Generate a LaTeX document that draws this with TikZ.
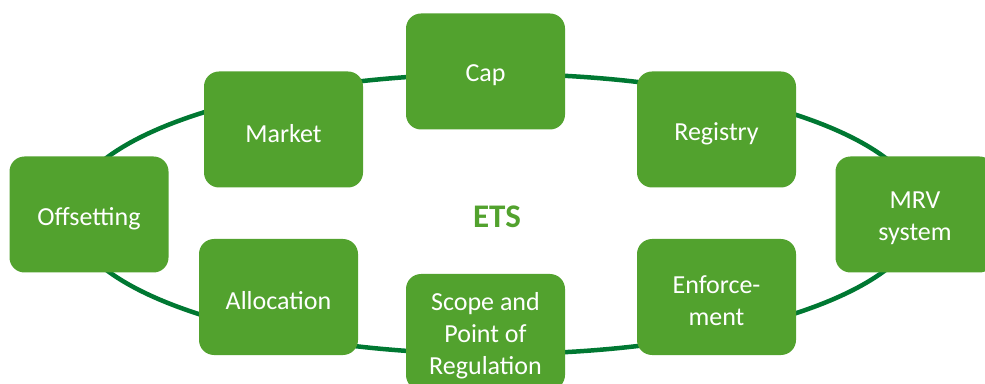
\documentclass[tikz,border=0pt]{standalone}
\usepackage{fontspec}
\setmainfont{Carlito}
\definecolor{boxgreen}{RGB}{82,162,46}
\definecolor{ringgreen}{RGB}{0,120,50}
\newcommand{\etsline}[1]{\raisebox{-4pt}[\height][\depth]{#1}}
\tikzset{
  etsbox/.style={fill=boxgreen, rounded corners=15pt, minimum width=159pt, minimum height=116pt,
    align=center, inner sep=0pt, text=white,
    font=\fontsize{26}{32}\selectfont},
  ring/.style={draw=ringgreen, line width=4.5pt}
}
\begin{document}
\begin{tikzpicture}[x=1pt, y=1pt]
    \useasboundingbox (0,0) rectangle (985,383);
    \clip (0,0) rectangle (985,383);
    \coordinate (centre) at (496,169);
    \draw[ring] (centre) ellipse [x radius=425, y radius=140];
    \node[etsbox] (cap) at (485.5,311.5) {\etsline{Cap}};
    \node[etsbox] (market) at (283.5,253.5) {\etsline{Market}};
    \node[etsbox] (registry) at (716.5,253.5) {\etsline{Registry}};
    \node[etsbox] (offset) at (89,168.5) {\etsline{Offsetting}};
    \node[etsbox] (mrv) at (915,168.5) {\etsline{MRV}\\\etsline{system}};
    \node[etsbox] (alloc) at (278.5,86) {\etsline{Allocation}};
    \node[etsbox] (enforce) at (716.5,86) {\etsline{Enforce-}\\\etsline{ment}};
    \node[etsbox] (scope) at (485.5,51) {\etsline{Scope and}\\\etsline{Point of}\\\etsline{Regulation}};
    \node[text=boxgreen, font=\fontsize{33}{40}\selectfont\bfseries] (ets) at (497,166) {ETS};
  \end{tikzpicture}
\end{document}
